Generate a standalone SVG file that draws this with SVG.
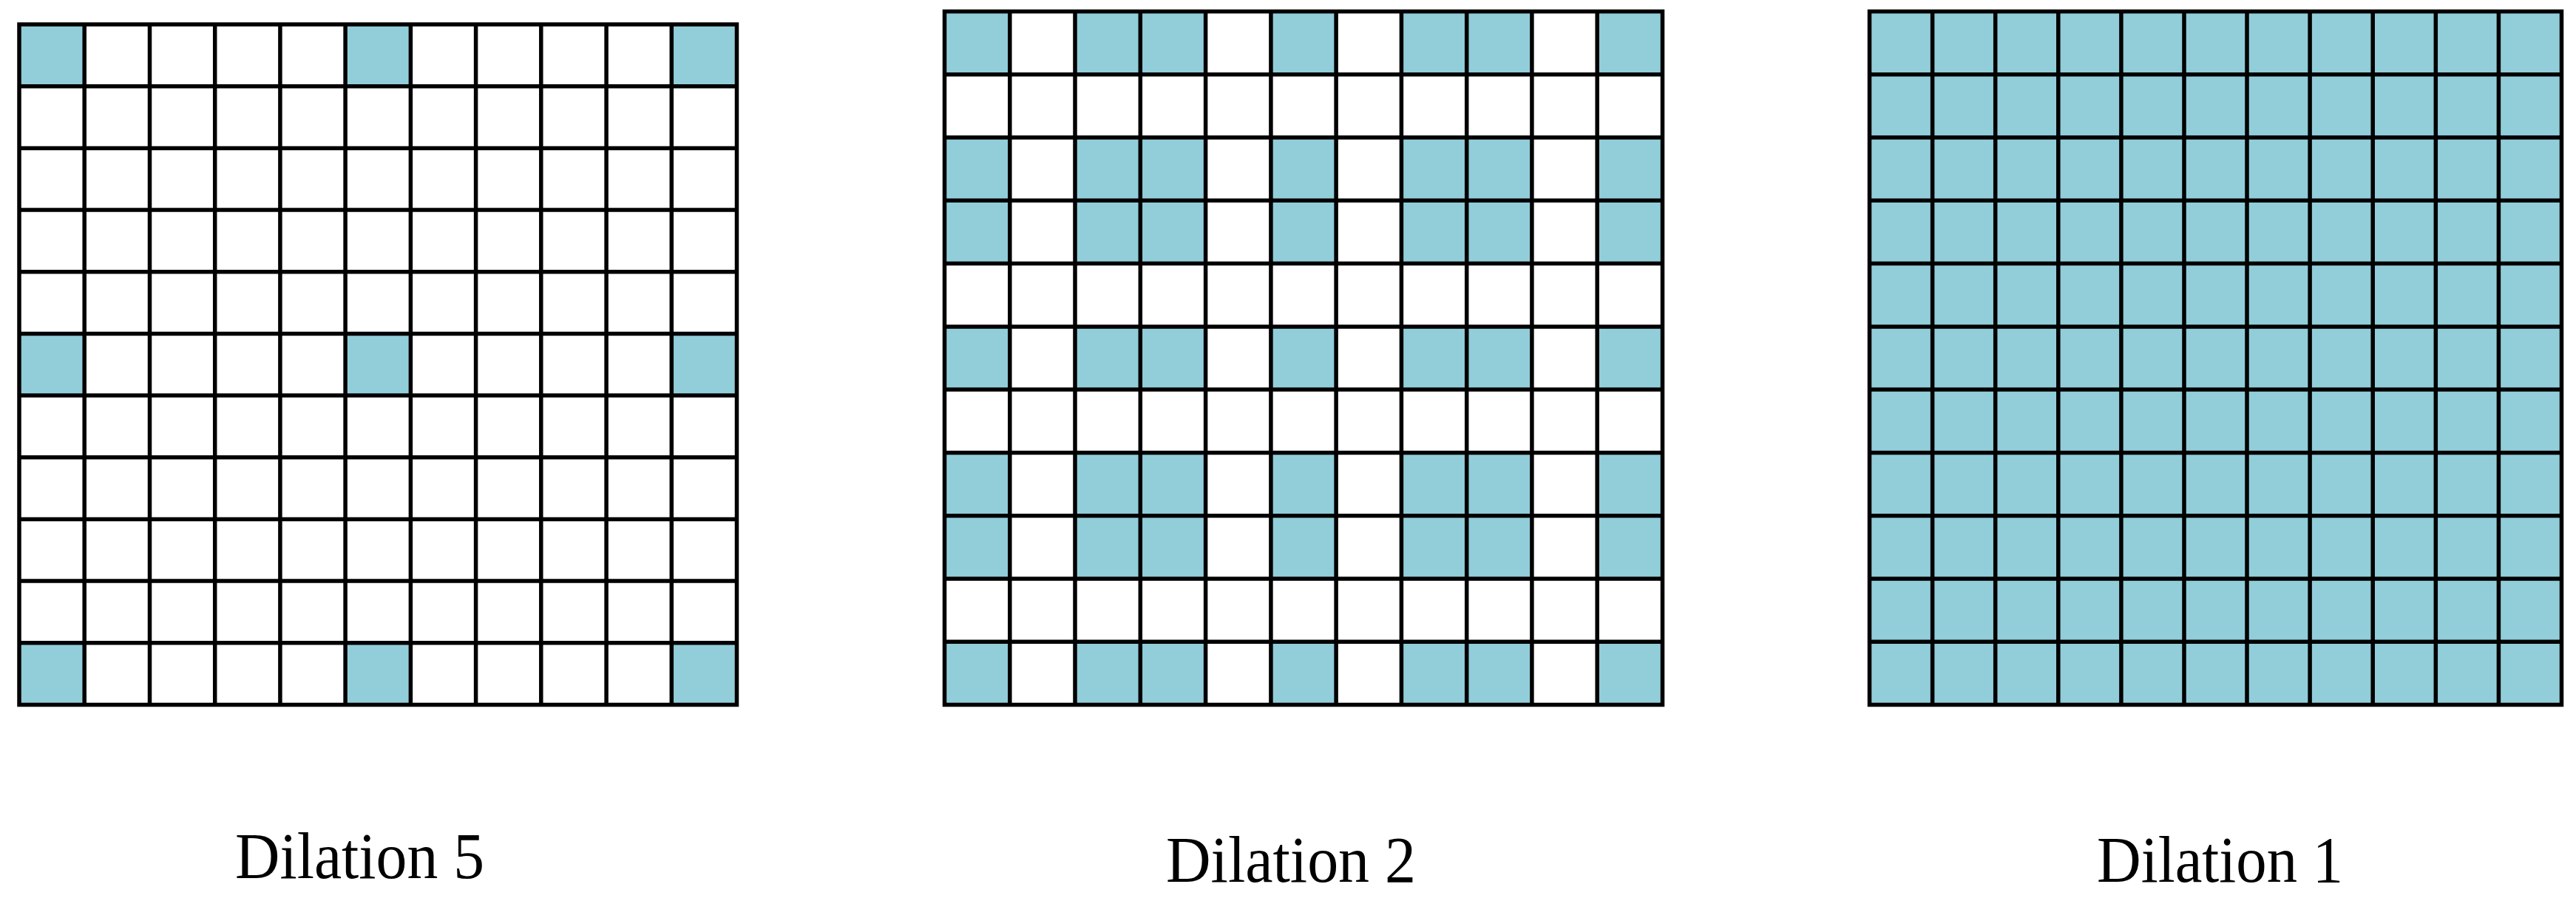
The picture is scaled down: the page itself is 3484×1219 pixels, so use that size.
<svg xmlns="http://www.w3.org/2000/svg" xmlns:xlink="http://www.w3.org/1999/xlink" width="3484" height="1219" viewBox="0 0 3484 1219">
<style>
.fill{fill:#92CDDA;stroke:none}
.grid{fill:none;stroke:#000;stroke-width:5.5;stroke-linecap:square}
.label{font-family:"Liberation Serif","Times New Roman",serif;font-size:88px;fill:#000;text-anchor:middle}
</style>
<defs>
<g id="cols2">
<rect class="fill" x="1277.5" y="0" width="88.3" height="85.3"/>
<rect class="fill" x="1454.0" y="0" width="176.6" height="85.3"/>
<rect class="fill" x="1718.9" y="0" width="88.2" height="85.3"/>
<rect class="fill" x="1895.4" y="0" width="176.5" height="85.3"/>
<rect class="fill" x="2160.2" y="0" width="88.3" height="85.3"/>
</g>
</defs>
<rect width="3484" height="1219" fill="#fff"/>
<g id="grid-dilation5">
<rect class="fill" x="26" y="33" width="88.2" height="83.7"/>
<rect class="fill" x="467.1" y="33" width="88.3" height="83.7"/>
<rect class="fill" x="908.3" y="33" width="88.2" height="83.7"/>
<rect class="fill" x="26" y="451.4" width="88.2" height="83.7"/>
<rect class="fill" x="467.1" y="451.4" width="88.3" height="83.7"/>
<rect class="fill" x="908.3" y="451.4" width="88.2" height="83.7"/>
<rect class="fill" x="26" y="869.8" width="88.2" height="83.7"/>
<rect class="fill" x="467.1" y="869.8" width="88.3" height="83.7"/>
<rect class="fill" x="908.3" y="869.8" width="88.2" height="83.7"/>
<path class="grid" d="M26 33V953.5M114.2 33V953.5M202.5 33V953.5M290.7 33V953.5M378.9 33V953.5M467.1 33V953.5M555.4 33V953.5M643.6 33V953.5M731.8 33V953.5M820.1 33V953.5M908.3 33V953.5M996.5 33V953.5M26 33H996.5M26 116.7H996.5M26 200.4H996.5M26 284.0H996.5M26 367.7H996.5M26 451.4H996.5M26 535.1H996.5M26 618.8H996.5M26 702.4H996.5M26 786.1H996.5M26 869.8H996.5M26 953.5H996.5"/>
<text class="label" x="486.5" y="1188" textLength="337" lengthAdjust="spacingAndGlyphs">Dilation 5</text>
</g>
<g id="grid-dilation2">
<use xlink:href="#cols2" href="#cols2" y="15.5"/>
<use xlink:href="#cols2" href="#cols2" y="186.0"/>
<use xlink:href="#cols2" href="#cols2" y="271.3"/>
<use xlink:href="#cols2" href="#cols2" y="441.9"/>
<use xlink:href="#cols2" href="#cols2" y="612.4"/>
<use xlink:href="#cols2" href="#cols2" y="697.7"/>
<use xlink:href="#cols2" href="#cols2" y="868.2"/>
<path class="grid" d="M1277.5 15.5V953.5M1365.8 15.5V953.5M1454.0 15.5V953.5M1542.3 15.5V953.5M1630.6 15.5V953.5M1718.9 15.5V953.5M1807.1 15.5V953.5M1895.4 15.5V953.5M1983.7 15.5V953.5M2071.9 15.5V953.5M2160.2 15.5V953.5M2248.5 15.5V953.5M1277.5 15.5H2248.5M1277.5 100.8H2248.5M1277.5 186.0H2248.5M1277.5 271.3H2248.5M1277.5 356.6H2248.5M1277.5 441.9H2248.5M1277.5 527.1H2248.5M1277.5 612.4H2248.5M1277.5 697.7H2248.5M1277.5 782.9H2248.5M1277.5 868.2H2248.5M1277.5 953.5H2248.5"/>
<text class="label" x="1746" y="1193" textLength="338" lengthAdjust="spacingAndGlyphs">Dilation 2</text>
</g>
<g id="grid-dilation1">
<rect class="fill" x="2528.5" y="15.5" width="936" height="938"/>
<path class="grid" d="M2528.5 15.5V953.5M2613.6 15.5V953.5M2698.7 15.5V953.5M2783.8 15.5V953.5M2868.9 15.5V953.5M2954.0 15.5V953.5M3039.0 15.5V953.5M3124.1 15.5V953.5M3209.2 15.5V953.5M3294.3 15.5V953.5M3379.4 15.5V953.5M3464.5 15.5V953.5M2528.5 15.5H3464.5M2528.5 100.8H3464.5M2528.5 186.0H3464.5M2528.5 271.3H3464.5M2528.5 356.6H3464.5M2528.5 441.9H3464.5M2528.5 527.1H3464.5M2528.5 612.4H3464.5M2528.5 697.7H3464.5M2528.5 782.9H3464.5M2528.5 868.2H3464.5M2528.5 953.5H3464.5"/>
<text class="label" x="3002.5" y="1193" textLength="333" lengthAdjust="spacingAndGlyphs">Dilation 1</text>
</g>
</svg>
